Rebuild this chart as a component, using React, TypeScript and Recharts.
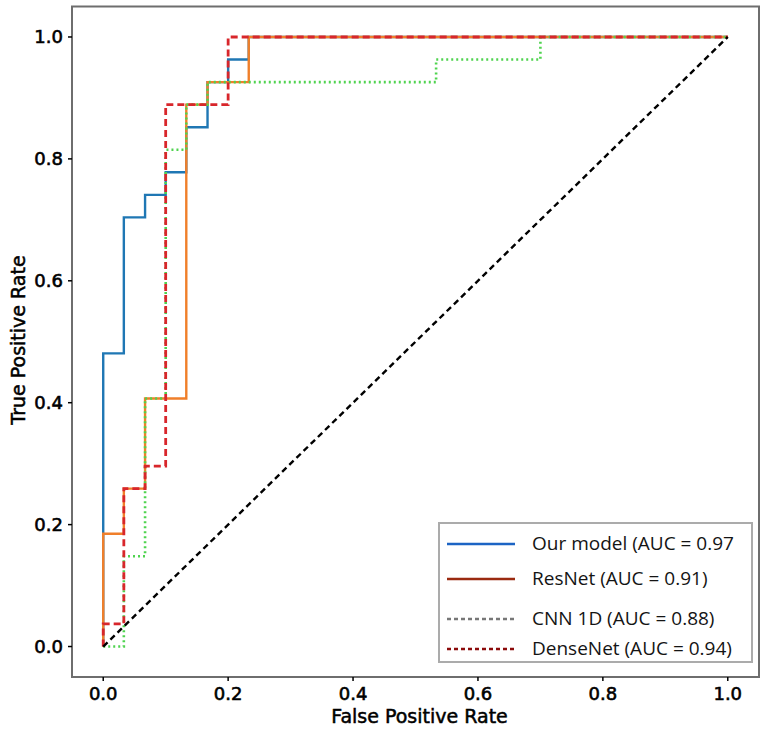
import {
  LineChart,
  Line,
  XAxis,
  YAxis,
  ReferenceArea,
  Legend,
} from "recharts";

// ROC points (corner points of each step curve)
const ourModelFpr = [0, 0, 0.033, 0.033, 0.067, 0.067, 0.1, 0.1, 0.133, 0.133, 0.167, 0.167, 0.2, 0.2, 0.233, 0.233, 1];
const ourModelTpr = [0, 0.481, 0.481, 0.704, 0.704, 0.741, 0.741, 0.778, 0.778, 0.852, 0.852, 0.926, 0.926, 0.963, 0.963, 1, 1];

const resNetFpr = [0, 0, 0.033, 0.033, 0.067, 0.067, 0.133, 0.133, 0.167, 0.167, 0.233, 0.233, 1];
const resNetTpr = [0, 0.185, 0.185, 0.259, 0.259, 0.407, 0.407, 0.889, 0.889, 0.926, 0.926, 1, 1];

const cnn1dFpr = [0, 0.033, 0.033, 0.067, 0.067, 0.1, 0.1, 0.133, 0.133, 0.167, 0.167, 0.533, 0.533, 0.7, 0.7, 1];
const cnn1dTpr = [0, 0, 0.148, 0.148, 0.407, 0.407, 0.815, 0.815, 0.889, 0.889, 0.926, 0.926, 0.963, 0.963, 1, 1];

const denseNetFpr = [0, 0, 0.033, 0.033, 0.067, 0.067, 0.1, 0.1, 0.2, 0.2, 1];
const denseNetTpr = [0, 0.037, 0.037, 0.259, 0.259, 0.296, 0.296, 0.889, 0.889, 1, 1];

const chanceFpr = [0, 1];
const chanceTpr = [0, 1];

const xTicks = [0, 0.2, 0.4, 0.6, 0.8, 1.0];
const yTicks = [0, 0.2, 0.4, 0.6, 0.8, 1.0];

const legendLabels = [
  "Our model (AUC = 0.97",
  "ResNet (AUC = 0.91)",
  "CNN 1D (AUC = 0.88)",
  "DenseNet (AUC = 0.94)",
];

const zip = (xs: number[], ys: number[]) => xs.map((x, i) => ({ x, y: ys[i] }));

// legend swatches differ from the plotted styles in the original figure
const legendSwatches = [
  { stroke: "#1c64c4", dash: undefined, width: 2.6 },
  { stroke: "#9a2a10", dash: undefined, width: 2.6 },
  { stroke: "#777777", dash: "4 3", width: 2.4 },
  { stroke: "#8b0a0a", dash: "4 3", width: 2.4 },
];
const legendRowY = [20, 55, 95, 125];

function RocLegend() {
  return (
    <div
      style={{
        position: "relative",
        width: 315,
        height: 141,
        boxSizing: "border-box",
        border: "2px solid #ababab",
        background: "#fff",
        fontFamily: "Open Sans",
        fontSize: 19,
        fontWeight: 500,
        color: "#141414",
      }}
    >
      {legendLabels.map((label, i) => (
        <div key={label}>
          <svg
            width={70}
            height={6}
            style={{ position: "absolute", left: 6, top: legendRowY[i] - 3 }}
          >
            <line
              x1={1}
              y1={3}
              x2={69}
              y2={3}
              stroke={legendSwatches[i].stroke}
              strokeWidth={legendSwatches[i].width}
              strokeDasharray={legendSwatches[i].dash}
            />
          </svg>
          <span
            style={{
              position: "absolute",
              left: 92,
              top: legendRowY[i] - 14,
              lineHeight: "26px",
              whiteSpace: "nowrap",
            }}
          >
            {label}
          </span>
        </div>
      ))}
    </div>
  );
}

// the source image is upscaled, so its text reads heavier than plain DejaVu
const tickStyle = {
  fontFamily: "DejaVu Sans",
  fontSize: 18,
  fill: "#000",
  stroke: "#000",
  strokeWidth: 0.6,
};
const axisLabelStyle = {
  fontFamily: "DejaVu Sans",
  fontSize: 19,
  fill: "#000",
  stroke: "#000",
  strokeWidth: 0.5,
};

export default function App() {
  return (
    <div style={{ position: "absolute", left: 0, top: 0, background: "#fff" }}>
      <LineChart
        width={765}
        height={730}
        margin={{ top: 6.5, right: 6, bottom: 0, left: 0 }}
      >
        <XAxis
          dataKey="x"
          type="number"
          domain={[-0.05, 1.05]}
          allowDataOverflow
          ticks={xTicks}
          interval={0}
          tickFormatter={(v: number) => v.toFixed(1)}
          tick={tickStyle}
          tickSize={4}
          tickMargin={6}
          tickLine={{ stroke: "#000", strokeWidth: 1.5 }}
          axisLine={false}
          height={53}
          label={{
            value: "False Positive Rate",
            position: "insideBottom",
            offset: 7,
            dx: 4,
            style: axisLabelStyle,
          }}
        />
        <YAxis
          type="number"
          domain={[-0.05, 1.05]}
          allowDataOverflow
          ticks={yTicks}
          interval={0}
          tickFormatter={(v: number) => v.toFixed(1)}
          tick={tickStyle}
          tickSize={4}
          tickMargin={5}
          tickLine={{ stroke: "#000", strokeWidth: 1.5 }}
          axisLine={false}
          width={72}
          label={() => (
            <text
              transform="translate(25,340) rotate(-90)"
              textAnchor="middle"
              style={axisLabelStyle}
            >
              True Positive Rate
            </text>
          )}
        />

        {/* axes frame (all four spines) */}
        <ReferenceArea
          x1={-0.05}
          x2={1.05}
          y1={-0.05}
          y2={1.05}
          fill="none"
          stroke="#6e6e6e"
          strokeWidth={2}
          ifOverflow="visible"
        />

        <Line
          data={zip(ourModelFpr, ourModelTpr)}
          dataKey="y"
          type="linear"
          stroke="#1f77b4"
          strokeWidth={2.4}
          dot={false}
          activeDot={false}
          isAnimationActive={false}
        />
        <Line
          data={zip(resNetFpr, resNetTpr)}
          dataKey="y"
          type="linear"
          stroke="#f07f2a"
          strokeWidth={2.4}
          dot={false}
          activeDot={false}
          isAnimationActive={false}
        />
        <Line
          data={zip(cnn1dFpr, cnn1dTpr)}
          dataKey="y"
          type="linear"
          stroke="#4fd34f"
          strokeWidth={2.6}
          strokeDasharray="2 3"
          dot={false}
          activeDot={false}
          isAnimationActive={false}
        />
        <Line
          data={zip(denseNetFpr, denseNetTpr)}
          dataKey="y"
          type="linear"
          stroke="#d8262b"
          strokeWidth={2.8}
          strokeDasharray="7 4"
          dot={false}
          activeDot={false}
          isAnimationActive={false}
        />
        <Line
          data={zip(chanceFpr, chanceTpr)}
          dataKey="y"
          type="linear"
          stroke="#000"
          strokeWidth={2.4}
          strokeDasharray="6 4"
          dot={false}
          activeDot={false}
          isAnimationActive={false}
        />

        <Legend
          layout="vertical"
          align="center"
          verticalAlign="middle"
          content={() => <RocLegend />}
          wrapperStyle={{ left: 438, top: 522, width: 315, height: 141 }}
        />
      </LineChart>
    </div>
  );
}
